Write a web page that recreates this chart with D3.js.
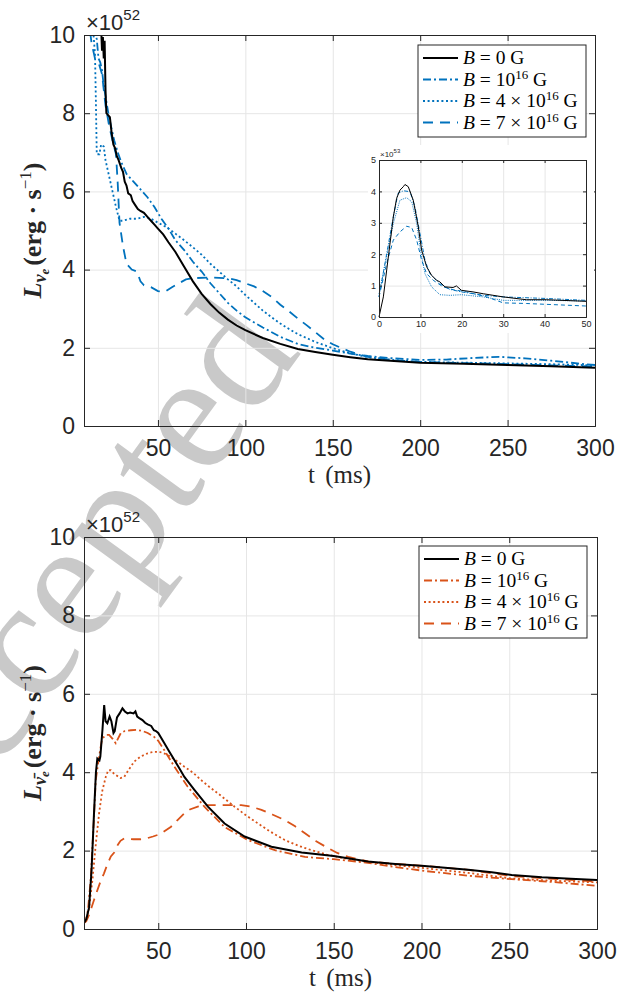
<!DOCTYPE html>
<html>
<head>
<meta charset="utf-8">
<script src="https://d3js.org/d3.v7.min.js"></script>
<style>
  body { margin: 0; background: #fff; }
  text { font-family: "Liberation Sans", Arial, sans-serif; }
</style>
</head>
<body>
<svg id="chart" width="636" height="997"></svg>
<script>
// ---- data (t in ms, L in units of 1e52 erg/s; inset in 1e53) ----
const xTicks = [50, 100, 150, 200, 250, 300];
const yTicks = [0, 2, 4, 6, 8, 10];
const insetXTicks = [0, 10, 20, 30, 40, 50];
const insetYTicks = [0, 1, 2, 3, 4, 5];
const legendNames = ['0', '10^16', '4x10^16', '7x10^16'];

// top panel: electron neutrinos
const nuB0 = [[16,11.5],[17,10.8],[18,9.6],[18.5,9.95],[19,9.4],[19.5,9.85],[20,8.6],[20.5,8.0],[21.5,7.95],[22.5,7.9],[23.5,7.5],[24.5,7.2],[25.5,7.1],[26.5,6.9],[27.5,6.8],[29,6.6],[30,6.5],[31,6.25],[32,6.15],[33,5.95],[34.5,5.9],[35.5,5.75],[37,5.65],[38.5,5.55],[40,5.5],[42,5.45],[44,5.35],[46,5.25],[48,5.15],[50,5.05],[53,4.9],[56,4.7],[60,4.45],[65,4.07],[70,3.7],[75,3.38],[80,3.12],[85,2.9],[90,2.72],[95,2.57],[100,2.45],[110,2.25],[120,2.1],[130,1.97],[140,1.89],[150,1.82],[160,1.76],[170,1.71],[185,1.66],[200,1.62],[225,1.59],[250,1.56],[275,1.53],[300,1.49]];
const nuB1 = [[10,11],[12,10.3],[14,10.0],[15,9.9],[16,9.4],[17,9.3],[18,9.1],[19,8.7],[20.5,8.3],[22,7.9],[23.5,7.6],[25,7.3],[27,7.0],[29,6.75],[32,6.45],[36,6.25],[40,6.05],[44,5.85],[48,5.6],[52,5.3],[56,5.05],[60,4.75],[65,4.5],[70,4.2],[75,3.95],[80,3.65],[85,3.4],[90,3.15],[95,2.95],[100,2.78],[110,2.52],[120,2.28],[130,2.1],[140,2.0],[150,1.93],[160,1.85],[170,1.79],[185,1.73],[200,1.69],[215,1.7],[230,1.74],[245,1.77],[260,1.73],[275,1.67],[290,1.6],[300,1.56]];
const nuB4 = [[10,10.8],[13,10.1],[14,9.5],[14.5,8.3],[15,6.95],[16.5,6.95],[17.5,7.2],[19,7.15],[20,6.8],[22,6.4],[24,6.0],[26,5.6],[28,5.25],[30,5.25],[34,5.3],[38,5.3],[42,5.35],[46,5.3],[50,5.2],[55,5.08],[60,4.92],[65,4.75],[70,4.57],[75,4.38],[80,4.15],[85,3.95],[90,3.75],[95,3.57],[100,3.35],[105,3.15],[110,2.95],[115,2.78],[120,2.62],[125,2.48],[130,2.35],[140,2.15],[150,1.99],[160,1.86],[170,1.76],[185,1.69],[200,1.64],[225,1.62],[250,1.6],[275,1.58],[300,1.55]];
const nuB7 = [[10,10.5],[12,9.8],[14,9.4],[16,9.3],[18,9.0],[20,8.2],[22,7.7],[24,7.3],[26,6.95],[27,6.2],[28,5.2],[30,4.6],[32,4.15],[35,4.0],[38,3.95],[40,3.7],[42,3.6],[46,3.55],[50,3.45],[54,3.43],[58,3.55],[62,3.65],[66,3.75],[70,3.78],[80,3.8],[90,3.78],[95,3.73],[100,3.65],[105,3.57],[110,3.45],[115,3.3],[120,3.1],[125,2.93],[130,2.75],[135,2.58],[140,2.4],[145,2.22],[150,2.09],[160,1.9],[170,1.77],[185,1.68],[200,1.64],[225,1.61],[250,1.58],[275,1.55],[300,1.52]];

// inset: first 50 ms
const insB0 = [[0,0],[1.05,0.64],[2.25,1.91],[3.46,3.19],[4.26,3.78],[5.06,4.04],[5.87,4.15],[6.27,4.22],[7.07,4.15],[8.28,3.72],[9.49,2.87],[10.3,2.13],[11.5,1.6],[12.7,1.33],[13.9,1.17],[14.7,1.12],[15.9,0.96],[17.9,0.94],[18.7,0.99],[19.9,0.85],[22.7,0.8],[25.2,0.74],[30,0.64],[35.6,0.55],[40.4,0.55],[50,0.5]];
const insB1 = [[0,0.64],[1.5,1.75],[3.46,3.19],[4.6,3.94],[5.9,4.02],[7.5,3.99],[8.7,3.5],[9.9,2.66],[11.1,1.81],[12.3,1.38],[14.7,1.06],[17.1,0.88],[19.9,0.8],[25.2,0.69],[30,0.64],[40.4,0.59],[50,0.53]];
const insB4 = [[0,0.74],[1.5,1.7],[3.46,2.98],[5.06,3.72],[6.67,3.8],[7.9,3.67],[9.1,2.98],[9.9,2.23],[11.1,1.38],[12.7,0.96],[14.7,0.71],[17.1,0.69],[19.9,0.71],[25.2,0.64],[30,0.53],[40.4,0.53],[50,0.51]];
const insB7 = [[0,0.64],[1.85,1.7],[3.46,2.45],[5.06,2.71],[6.67,2.89],[7.9,2.85],[9.1,2.45],[10.3,1.81],[11.5,1.38],[13.1,1.17],[15.5,0.96],[17.9,0.87],[21.1,0.8],[26,0.64],[30,0.45],[35.6,0.43],[50,0.35]];

// bottom panel: electron antineutrinos
const anuB0 = [[7.7,0.15],[9,0.25],[10.6,0.55],[12,1.5],[13.4,2.95],[14.5,4.0],[15.3,4.35],[16.5,4.3],[17,4.4],[18.2,5.07],[19.2,5.71],[20,5.3],[21,5.25],[22.3,5.42],[23.3,5.3],[24.5,5.0],[25.2,5.05],[26.5,5.4],[28,5.5],[29.6,5.63],[31,5.55],[32.5,5.5],[34,5.52],[35.9,5.5],[37,5.55],[38,5.42],[39.2,5.38],[41,5.33],[42.5,5.26],[44,5.22],[46,5.18],[47.5,5.07],[48.7,5.05],[50,5.0],[53.5,4.74],[56,4.55],[59.2,4.31],[62,4.1],[64.9,3.88],[70.6,3.55],[78.3,3.12],[87.8,2.69],[99.2,2.36],[114.5,2.1],[131.7,1.95],[150,1.86],[169.4,1.72],[185,1.66],[201.8,1.61],[226.6,1.51],[240,1.45],[251.4,1.38],[268.6,1.32],[285,1.28],[300,1.25]];
const anuB1 = [[7.7,0.15],[9,0.25],[10,0.5],[11.5,1.25],[13,2.5],[14.4,3.8],[16.3,4.4],[18,4.85],[19.1,4.9],[20.5,4.95],[22,4.95],[24,4.85],[25.8,4.74],[27,4.85],[28.7,5.0],[31,5.05],[34.4,5.07],[38,5.08],[41.1,5.05],[44,5.0],[47.7,4.9],[50,4.8],[53.5,4.56],[59.2,4.14],[66.8,3.63],[76.3,3.12],[87.8,2.6],[101.1,2.27],[116.4,2.01],[133.6,1.84],[150,1.78],[169.4,1.69],[185,1.58],[201.8,1.48],[226.6,1.36],[251.4,1.27],[275,1.2],[300,1.1]];
const anuB4 = [[7.7,0.15],[9,0.25],[10.5,0.5],[12.5,1.25],[14.5,2.2],[16.3,2.95],[18,3.5],[20.1,3.88],[21.5,4.05],[23,4.05],[25,3.95],[26.8,3.9],[28.5,3.85],[30.6,3.88],[33,4.05],[36.3,4.27],[40,4.4],[43.9,4.48],[47,4.52],[50.6,4.52],[54,4.47],[57.3,4.39],[61,4.27],[64.9,4.14],[70,3.98],[74.4,3.8],[79,3.63],[84,3.46],[88.5,3.3],[93.5,3.12],[100,2.9],[106.9,2.69],[114,2.48],[122.1,2.27],[130,2.12],[137.4,2.01],[146,1.9],[156.4,1.8],[170,1.71],[185,1.63],[200,1.56],[226.6,1.43],[251.4,1.29],[275,1.23],[300,1.19]];
const anuB7 = [[7.7,0.15],[9,0.2],[10.5,0.35],[12,0.55],[13.4,0.74],[15,0.95],[17,1.2],[19.1,1.42],[21,1.65],[23,1.85],[24.9,1.95],[27,2.15],[28.5,2.25],[30.6,2.31],[33,2.3],[36,2.29],[40.1,2.29],[44,2.32],[47,2.36],[49.7,2.4],[53,2.48],[57.3,2.61],[61,2.78],[64.9,2.95],[68,3.05],[72.5,3.12],[77,3.16],[82.1,3.16],[90,3.16],[97.3,3.16],[103,3.12],[108.8,3.04],[115,2.92],[122.1,2.78],[128,2.62],[133.6,2.44],[140,2.24],[146.9,2.06],[152,1.94],[158.3,1.84],[170,1.72],[185,1.66],[201.8,1.61],[226.6,1.51],[251.4,1.35],[275,1.28],[300,1.21]];

// ---- styles ----
const blue = '#0072bd', orange = '#d95319', ink = '#262626';
const dashes = [null, '8,3,2,3', '2,2.6', '10,7'];
const serif = '"Liberation Serif", "DejaVu Serif", serif';

const svg = d3.select('#chart');

// watermark behind everything
svg.append('text')
  .attr('transform', 'translate(302,352) rotate(-54)')
  .attr('text-anchor', 'end')
  .style('font-family', serif)
  .style('font-size', '170px')
  .attr('fill', '#c9c9c9')
  .text('Accepted');

function legendLabel(sel, name) {
  sel.append('tspan').style('font-style', 'italic').text('B');
  if (name === '0') { sel.append('tspan').text(' = 0 G'); return; }
  const pre = name.startsWith('4') ? ' = 4 × 10' : name.startsWith('7') ? ' = 7 × 10' : ' = 10';
  sel.append('tspan').text(pre);
  sel.append('tspan').attr('dy', -7).style('font-size', '13px').text('16');
  sel.append('tspan').attr('dy', 7).text(' G');
}

function drawPanel(box, series, color, ylab, legendBox) {
  const x = d3.scaleLinear().domain([7.7, 300]).range([box.l, box.r]);
  const y = d3.scaleLinear().domain([0, 10]).range([box.b, box.t]);
  const g = svg.append('g');
  const h = box.b - box.t, w = box.r - box.l;

  // grid
  g.append('g').attr('transform', `translate(0,${box.b})`)
    .call(d3.axisBottom(x).tickValues(xTicks).tickSize(-h).tickFormat(''))
    .call(a => a.select('.domain').remove())
    .selectAll('line').attr('stroke', '#e6e6e6');
  g.append('g').attr('transform', `translate(${box.l},0)`)
    .call(d3.axisLeft(y).tickValues(yTicks).tickSize(-w).tickFormat(''))
    .call(a => a.select('.domain').remove())
    .selectAll('line').attr('stroke', '#e6e6e6');

  // curves
  const clipId = 'clip' + box.t;
  svg.append('clipPath').attr('id', clipId).append('rect')
    .attr('x', box.l).attr('y', box.t).attr('width', w).attr('height', h);
  const line = d3.line().x(d => x(d[0])).y(d => y(d[1]));
  const cg = g.append('g').attr('clip-path', `url(#${clipId})`);
  series.slice().reverse().forEach((s, k) => {
    const i = series.length - 1 - k;
    cg.append('path').datum(s)
      .attr('d', line).attr('fill', 'none')
      .attr('stroke', i === 0 ? '#000' : color)
      .attr('stroke-width', i === 0 ? 2 : 1.8)
      .attr('stroke-dasharray', dashes[i]);
  });

  // axes with inward ticks on all four sides
  const fmt = d3.format('d');
  const ax = [
    [d3.axisBottom(x).tickValues(xTicks).tickSize(-6).tickPadding(14).tickFormat(fmt), `translate(0,${box.b})`],
    [d3.axisTop(x).tickValues(xTicks).tickSize(-6).tickFormat(''), `translate(0,${box.t})`],
    [d3.axisLeft(y).tickValues(yTicks).tickSize(-6).tickPadding(9).tickFormat(fmt), `translate(${box.l},0)`],
    [d3.axisRight(y).tickValues(yTicks).tickSize(-6).tickFormat(''), `translate(${box.r},0)`]
  ];
  ax.forEach(([a, tr]) => {
    const s = g.append('g').attr('transform', tr).call(a);
    s.select('.domain').attr('stroke', ink).attr('stroke-width', 1);
    s.selectAll('line').attr('stroke', ink);
    s.selectAll('text').attr('fill', ink).style('font-size', '23px')
      .style('font-family', '"Liberation Sans", Arial, sans-serif');
  });

  // exponent
  const ex = g.append('text').attr('x', box.l + 2).attr('y', box.t - 5)
    .attr('fill', ink).style('font-size', '22px');
  ex.append('tspan').text('×10');
  ex.append('tspan').attr('dy', -10).style('font-size', '15px').text('52');

  // x label
  g.append('text').attr('x', (box.l + box.r) / 2).attr('y', box.b + 57)
    .attr('text-anchor', 'middle').attr('fill', ink)
    .style('font-family', serif).style('font-size', '25px')
    .style('word-spacing', '4px')
    .text('t (ms)');

  // y label
  const yl = g.append('text')
    .attr('transform', `translate(41,${(box.t + box.b) / 2}) rotate(-90)`)
    .attr('text-anchor', 'middle').attr('fill', ink)
    .style('font-family', serif).style('font-size', '26px').style('font-weight', 'bold');
  yl.append('tspan').style('font-style', 'italic').text('L');
  yl.append('tspan').attr('dy', 5).style('font-style', 'italic').style('font-size', '18px').text(ylab);
  yl.append('tspan').attr('dy', 3).style('font-style', 'italic').style('font-size', '13px').text('e');
  yl.append('tspan').attr('dy', -8).attr('dx', 3).text('(erg · s');
  yl.append('tspan').attr('dy', -10).style('font-size', '17px').style('font-weight', 'normal').text('−1');
  yl.append('tspan').attr('dy', 10).text(')');

  // legend
  const lg = g.append('g');
  lg.append('rect').attr('x', legendBox.x).attr('y', legendBox.y)
    .attr('width', 168).attr('height', 92)
    .attr('fill', '#fff').attr('stroke', ink).attr('stroke-width', 1);
  legendNames.forEach((name, i) => {
    const cy = legendBox.y + 13 + i * 21.5;
    lg.append('line').attr('x1', legendBox.x + 5).attr('x2', legendBox.x + 40)
      .attr('y1', cy).attr('y2', cy)
      .attr('stroke', i === 0 ? '#000' : color)
      .attr('stroke-width', i === 0 ? 2 : 1.8)
      .attr('stroke-dasharray', dashes[i]);
    const t = lg.append('text').attr('x', legendBox.x + 45).attr('y', cy + 6)
      .attr('fill', '#000').style('font-family', serif).style('font-size', '19.5px');
    legendLabel(t, name);
  });
  return g;
}

drawPanel({ l: 84, r: 595, t: 35, b: 426 }, [nuB0, nuB1, nuB4, nuB7], blue, 'ν', { x: 418, y: 45 });
drawPanel({ l: 84, r: 597, t: 537, b: 929 }, [anuB0, anuB1, anuB4, anuB7], orange, 'ν̄', { x: 419, y: 546 });

// ---- inset ----
const ib = { l: 379, r: 586, t: 160, b: 317 };
const xi = d3.scaleLinear().domain([0, 50]).range([ib.l, ib.r]);
const yi = d3.scaleLinear().domain([0, 5]).range([ib.b, ib.t]);
const ig = svg.append('g');
ig.append('rect').attr('x', 368).attr('y', 145).attr('width', 226)
  .attr('height', 188).attr('fill', '#fff');
ig.append('g').attr('transform', `translate(0,${ib.b})`)
  .call(d3.axisBottom(xi).tickValues(insetXTicks).tickSize(-(ib.b - ib.t)).tickFormat(''))
  .call(a => a.select('.domain').remove())
  .selectAll('line').attr('stroke', '#e6e6e6');
ig.append('g').attr('transform', `translate(${ib.l},0)`)
  .call(d3.axisLeft(yi).tickValues(insetYTicks).tickSize(-(ib.r - ib.l)).tickFormat(''))
  .call(a => a.select('.domain').remove())
  .selectAll('line').attr('stroke', '#e6e6e6');
const iline = d3.line().x(d => xi(d[0])).y(d => yi(d[1]));
[insB7, insB4, insB1, insB0].forEach((s, k) => {
  const i = 3 - k;
  ig.append('path').datum(s).attr('d', iline).attr('fill', 'none')
    .attr('stroke', i === 0 ? '#000' : blue)
    .attr('stroke-width', 1)
    .attr('stroke-dasharray', i === 1 ? '4,1.5,1,1.5' : i === 2 ? '1,1.2' : i === 3 ? '4,3' : null);
});
const ifmt = d3.format('d');
[
  [d3.axisBottom(xi).tickValues(insetXTicks).tickSize(-3).tickPadding(4).tickFormat(ifmt), `translate(0,${ib.b})`],
  [d3.axisTop(xi).tickValues(insetXTicks).tickSize(-3).tickFormat(''), `translate(0,${ib.t})`],
  [d3.axisLeft(yi).tickValues(insetYTicks).tickSize(-3).tickPadding(3).tickFormat(ifmt), `translate(${ib.l},0)`],
  [d3.axisRight(yi).tickValues(insetYTicks).tickSize(-3).tickFormat(''), `translate(${ib.r},0)`]
].forEach(([a, tr]) => {
  const s = ig.append('g').attr('transform', tr).call(a);
  s.select('.domain').attr('stroke', ink);
  s.selectAll('line').attr('stroke', ink);
  s.selectAll('text').attr('fill', ink).style('font-size', '9px')
    .style('font-family', '"Liberation Sans", Arial, sans-serif');
});
const iex = ig.append('text').attr('x', ib.l + 1).attr('y', ib.t - 3)
  .attr('fill', ink).style('font-size', '8px');
iex.append('tspan').text('×10');
iex.append('tspan').attr('dy', -4).style('font-size', '6px').text('53');
</script>
</body>
</html>
